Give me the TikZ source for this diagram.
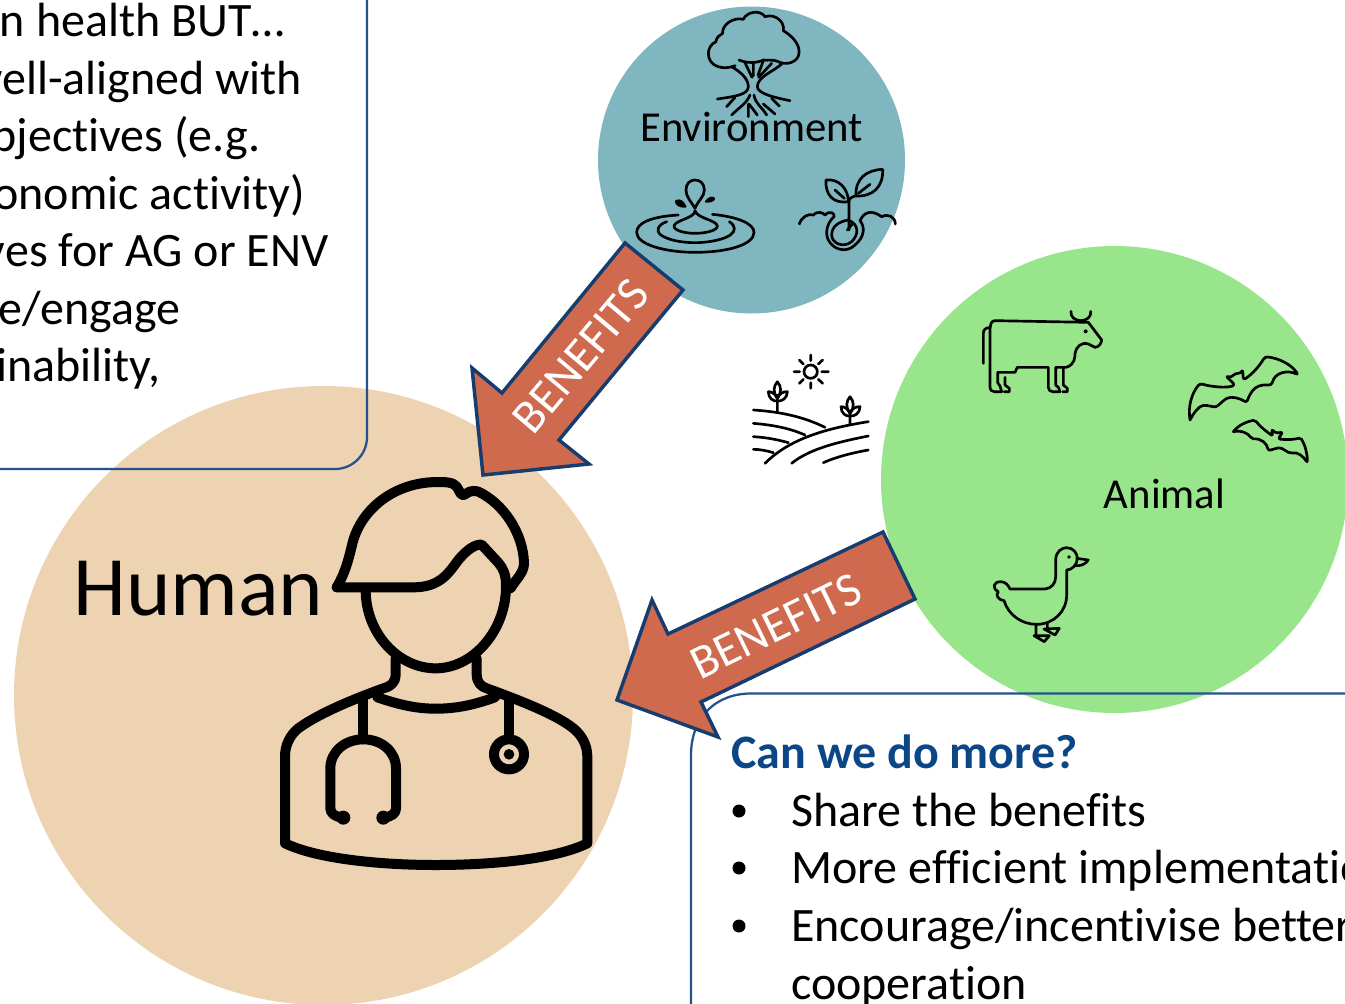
\documentclass[tikz,border=0pt]{standalone}
\usepackage{fontspec}
\setmainfont{Carlito}[Ligatures=NoCommon]
\definecolor{humanc}{HTML}{EDD3B2}
\definecolor{envc}{HTML}{7FB6BF}
\definecolor{animalc}{HTML}{99E58B}
\definecolor{arrowc}{HTML}{CF6A4E}
\definecolor{arrowline}{HTML}{173D70}
\definecolor{boxline}{HTML}{23528F}
\definecolor{titlec}{HTML}{0B4687}
\tikzset{
  blob/.style={fill=#1,draw=none},
  bigarrow/.style={fill=arrowc,draw=arrowline,line width=2.6pt,line join=miter},
  framebox/.style={draw=boxline,line width=1.7pt},
  zoomed/.style={x=.25pt,y=-.25pt},
  icon/.style={draw=black,line width=#1,line cap=round,line join=round,fill=none},
  icon/.default=2pt,
  bodytext/.style={font=\fontsize{36pt}{40pt}\selectfont,inner sep=0pt,text=black},
  labeltext/.style={font=\fontsize{32pt}{36pt}\selectfont,inner sep=0pt,text=black},
  benefit/.style={font=\fontsize{36pt}{40pt}\selectfont,inner sep=0pt,text=white},
}
\begin{document}
\begin{tikzpicture}[x=.75pt,y=-.75pt]
\useasboundingbox (0,0) rectangle (1345,1003);
\clip (0,0) rectangle (1345,1003);
% circles
\fill[blob=humanc] (323.5,695.5) circle[radius=309.5];
\fill[blob=envc] (751.5,160) circle[radius=153.5];
\fill[blob=animalc] (1114.5,479.5) circle[radius=233.5];
% frames
\draw[framebox] (-10,469) -- (335,469) arc[start angle=90,end angle=0,radius=32] -- (367,-10);
\draw[framebox] (1360,693.5) -- (751,693.5) .. controls (715,693.5) and (691,718) .. (691,755) -- (691,1015);
% left text
\node[bodytext,anchor=base east] (l1) at (285,36.5) {n health BUT…};
\node[bodytext,anchor=base east] (l2) at (302.5,94) {well-aligned with};
\node[bodytext,anchor=base east] (l3) at (260.5,151.5) {bjectives (e.g.};
\node[bodytext,anchor=base east] (l4) at (305.5,209) {onomic activity)};
\node[bodytext,anchor=base east] (l5) at (328.5,266.5) {ves for AG or ENV};
\node[bodytext,anchor=base east] (l6) at (180.5,324.5) {e/engage};
\node[bodytext,anchor=base east] (l7) at (160.5,381.5) {inability,};
% right text
\node[bodytext,anchor=base west,text=titlec,font=\fontsize{36pt}{40pt}\selectfont\bfseries] (t0) at (731,768) {Can we do more?};
\node[bodytext,anchor=base west] (t1) at (791,826) {Share the benefits};
\node[bodytext,anchor=base west] (t2) at (791,883.5) {More efficient implementation};
\node[bodytext,anchor=base west] (t3) at (791,941.5) {Encourage/incentivise better};
\node[bodytext,anchor=base west] (t4) at (791,999.5) {cooperation};
\fill (739,811) circle[radius=6.5];
\fill (739,868) circle[radius=6.5];
\fill (739,926) circle[radius=6.5];
% labels
\node[font=\fontsize{63.5pt}{70pt}\selectfont,inner sep=0pt,anchor=base west] (human) at (73,615) {Human};
\node[labeltext,anchor=base] (env) at (751.5,141) {Environment};
\node[labeltext,anchor=base] (animal) at (1164.5,508) {Animal};
% arrows
\draw[bigarrow] (625,243) -- (683,290) -- (559,440) -- (589,464) -- (483,475) -- (472,368) -- (502,393) -- cycle;
\draw[bigarrow] (883,532) -- (915,599) -- (701,702) -- (718,737) -- (617,700) -- (652,600) -- (668,634) -- cycle;
\node[benefit,rotate=50] (b1) at (581,356) {BENEFITS};
\node[benefit,rotate=26] (b2) at (776,626) {BENEFITS};
% doctor
\begin{scope}[shift={(270,470)},zoomed]
\draw[icon=7.5pt] (200,352) .. controls (225,310) and (235,270) .. (245,230) .. controls (265,130) and (360,38) .. (500,36) .. controls (525,36) and (550,36) .. (560,50) .. controls (570,65) and (572,78) .. (582,75) .. controls (592,70) and (600,58) .. (625,65) .. controls (700,100) and (760,190) .. (762,280) .. controls (762,310) and (735,330) .. (722,355);
\draw[icon=7.5pt] (200,352) -- (430,352) .. controls (510,352) and (535,310) .. (565,270) .. controls (590,240) and (615,222) .. (635,224) -- (685,278) .. controls (700,295) and (708,315) .. (708,345) .. controls (710,480) and (610,595) .. (497,595) .. controls (385,595) and (287,490) .. (287,360);
\draw[icon=7.5pt] (377,565) -- (377,612) .. controls (377,640) and (360,650) .. (340,655) .. controls (230,695) and (140,735) .. (85,775) .. controls (60,795) and (45,825) .. (45,860) -- (45,1120) .. controls (150,1170) and (350,1185) .. (497,1185) .. controls (650,1185) and (850,1170) .. (952,1120) -- (952,860) .. controls (952,825) and (935,795) .. (910,775) .. controls (860,735) and (760,695) .. (650,655) .. controls (635,650) and (620,640) .. (620,612) -- (620,565);
\draw[icon=7.5pt] (322,682) .. controls (390,705) and (440,716) .. (497,716) .. controls (560,716) and (610,705) .. (675,682);
\draw[icon=7.5pt] (280,690) -- (280,808);
\draw[icon=7.5pt] (217,1043) .. controls (195,1040) and (181,1030) .. (181,1015) -- (181,895) .. controls (181,845) and (225,808) .. (280,808) .. controls (335,808) and (378,845) .. (378,895) -- (378,1015) .. controls (378,1030) and (365,1040) .. (342,1043);
\fill (220,1043) circle[radius=21];
\fill (340,1043) circle[radius=21];
\draw[icon=7.5pt] (717,690) -- (717,800);
\draw[icon=7.5pt] (717,853) circle[radius=45];
\fill (717,853) circle[radius=16];
\end{scope}
% tree and other environment icons
\begin{scope}[shift={(600,0)},zoomed]
\draw[icon=2pt] (405,197) .. controls (370,212) and (325,200) .. (325,160) .. controls (325,145) and (335,130) .. (347,126) .. controls (350,110) and (360,105) .. (368,100) .. controls (365,75) and (400,50) .. (430,58) .. controls (440,35) and (480,28) .. (495,50) .. controls (525,40) and (555,65) .. (550,92) .. controls (580,110) and (600,135) .. (597,160) .. controls (595,185) and (560,200) .. (530,183) .. controls (515,178) and (500,182) .. (490,180) .. controls (470,190) and (440,190) .. (417,180);
\draw[icon=2pt] (395,200) .. controls (420,215) and (445,235) .. (445,260) .. controls (445,285) and (400,290) .. (352,297);
\draw[icon=2pt] (545,192) .. controls (520,215) and (472,230) .. (472,260) .. controls (472,280) and (520,292) .. (570,302);
\draw[icon=2pt] (435,188) -- (456,232) (460,188) -- (460,228) (490,182) -- (474,225) (515,190) -- (476,232);
\draw[icon=2pt] (380,320) -- (405,292) (395,345) .. controls (420,320) and (440,310) .. (450,285) (445,350) -- (445,312) (472,345) -- (447,312) (500,345) .. controls (485,320) and (465,310) .. (462,285) (525,342) -- (490,312) (538,318) -- (515,295);
% water
\draw[icon=2pt] (235,645) .. controls (150,650) and (110,670) .. (110,697) .. controls (110,735) and (200,757) .. (285,757) .. controls (380,757) and (462,735) .. (462,697) .. controls (462,670) and (410,650) .. (337,643);
\draw[icon=2pt] (200,665) .. controls (170,675) and (170,695) .. (180,703) .. controls (205,722) and (250,728) .. (285,728) .. controls (330,728) and (405,715) .. (403,685) .. controls (403,678) and (398,672) .. (388,665);
\draw[icon=2pt] (285,632) .. controls (285,655) and (225,660) .. (222,678) .. controls (222,692) and (255,700) .. (285,700) .. controls (315,700) and (352,692) .. (352,678) .. controls (350,660) and (290,655) .. (285,632);
\draw[icon=2pt] (285,625) .. controls (270,600) and (258,590) .. (258,570) .. controls (258,550) and (270,540) .. (285,540) .. controls (300,540) and (313,550) .. (313,570) .. controls (313,590) and (295,600) .. (285,625);
\draw[icon=1.6pt,fill=black] (228,603) .. controls (240,598) and (250,605) .. (256,620) .. controls (240,620) and (228,615) .. (228,603);
\draw[icon=1.6pt,fill=black] (342,595) .. controls (335,590) and (325,595) .. (318,605) .. controls (330,605) and (342,602) .. (342,595);
% sprout
\draw[icon=2pt] (598,672) .. controls (605,650) and (625,640) .. (640,645) .. controls (655,630) and (670,640) .. (675,645) .. controls (690,630) and (705,640) .. (702,650) .. controls (680,670) and (675,700) .. (685,720) .. controls (700,750) and (740,760) .. (765,735) .. controls (795,710) and (795,680) .. (780,662) .. controls (790,640) and (810,625) .. (845,650) .. controls (865,640) and (885,650) .. (886,672);
\draw[icon=2pt] (745,660) .. controls (715,665) and (695,680) .. (695,705) .. controls (695,730) and (730,745) .. (755,725) .. controls (775,705) and (780,675) .. (745,660) (747,690) -- (747,605) .. controls (747,595) and (755,590) .. (770,587);
\draw[icon=2pt] (742,690) -- (757,672);
\draw[icon=2pt] (678,540) .. controls (715,535) and (745,565) .. (745,605) .. controls (700,612) and (675,585) .. (678,540);
\draw[icon=2pt] (705,570) -- (733,595);
\draw[icon=2pt] (848,508) .. controls (800,510) and (765,535) .. (768,588) .. controls (820,590) and (850,560) .. (848,508);
\draw[icon=2pt] (775,580) -- (810,553);
\end{scope}
% animals
\begin{scope}[shift={(960,290)},zoomed]
% cow
\draw[icon=2pt] (70,220) -- (70,130) .. controls (70,120) and (76,114) .. (86,113);
\draw[icon=2pt] (90,125) -- (90,290) .. controls (90,300) and (95,305) .. (103,305) -- (125,305) -- (120,288) -- (113,278) -- (113,247) -- (165,247) -- (172,232) -- (265,232) -- (265,292) .. controls (265,300) and (270,305) .. (278,305) -- (300,305) -- (295,292) -- (287,285) -- (287,232) -- (318,232) .. controls (345,225) and (345,200) .. (345,190) .. controls (348,170) and (365,155) .. (385,162) -- (405,172) .. controls (415,172) and (425,160) .. (425,150) -- (385,97) -- (105,92) .. controls (95,92) and (90,100) .. (90,125);
\draw[icon=2pt] (135,262) -- (135,285) -- (148,295) -- (148,305) -- (132,305);
\draw[icon=2pt] (310,235) -- (310,285) -- (322,295) -- (322,305) -- (308,305);
\draw[icon=2pt] (333,64) .. controls (330,80) and (345,92) .. (362,92) .. controls (380,92) and (395,80) .. (392,64);
\fill (377,124) circle[radius=6];
% bats
\draw[icon=2pt,rounded corners=2pt] (690,390) .. controls (683,350) and (695,310) .. (720,280) .. controls (750,290) and (800,295) .. (825,285) -- (810,270) -- (797,258) -- (815,262) -- (825,250) -- (843,250) -- (848,238) -- (850,270) .. controls (880,250) and (900,225) .. (915,200) .. controls (960,205) and (995,225) .. (1015,255) .. controls (985,240) and (945,245) .. (935,285) .. controls (910,285) and (880,280) .. (860,338) .. controls (840,325) and (815,318) .. (795,328) -- (768,352) -- (735,345) .. controls (715,350) and (700,370) .. (690,390);
\draw[icon=2pt,rounded corners=1.5pt] (820,425) .. controls (835,405) and (860,395) .. (885,390) .. controls (900,410) and (920,425) .. (938,438) -- (935,418) -- (948,430) -- (968,426) -- (955,447) .. controls (985,450) and (1005,448) .. (1022,443) .. controls (1035,465) and (1042,490) .. (1042,518) .. controls (1030,500) and (1015,485) .. (990,490) -- (960,472) -- (925,482) .. controls (920,460) and (905,445) .. (875,447) .. controls (865,430) and (845,420) .. (820,425);
% duck
\draw[icon=2pt] (150,897) -- (255,897) .. controls (275,895) and (287,880) .. (287,860) -- (287,810) .. controls (287,785) and (305,773) .. (320,773) .. controls (340,773) and (352,790) .. (352,805) .. controls (352,825) and (335,840) .. (320,840) -- (320,915) .. controls (320,965) and (280,1003) .. (230,1003) .. controls (185,1003) and (145,975) .. (132,932) .. controls (115,930) and (105,915) .. (115,905) .. controls (95,895) and (100,875) .. (122,875) .. controls (135,875) and (145,885) .. (150,897);
\draw[icon=2pt] (350,805) -- (385,810) .. controls (375,825) and (360,828) .. (345,827);
\fill (327,801) circle[radius=5.5];
\draw[icon=2pt] (228,1003) -- (228,1035) (222,1037) -- (268,1037) -- (253,1055) -- cycle;
\draw[icon=2pt] (262,997) -- (262,1015) (252,1017) -- (298,1015) -- (285,1035) -- cycle;
\end{scope}
% farm
\begin{scope}[shift={(740,340)},zoomed]
\draw[icon=2pt] (212,95) circle[radius=20];
\draw[icon=2pt] (212,45) -- (212,62) (212,128) -- (212,145) (162,95) -- (179,95) (245,95) -- (265,95) (178,60) -- (190,72) (235,118) -- (248,130) (178,130) -- (190,118) (235,72) -- (248,60);
\draw[icon=2pt] (112,215) -- (112,165) (112,125) .. controls (100,140) and (98,155) .. (112,175) .. controls (126,155) and (124,140) .. (112,125);
\draw[icon=2pt] (85,155) .. controls (85,175) and (100,185) .. (112,183) .. controls (125,185) and (142,175) .. (142,155) .. controls (128,155) and (118,160) .. (112,175) .. controls (105,160) and (95,155) .. (85,155);
\draw[icon=2pt] (330,255) -- (330,215) (330,170) .. controls (318,185) and (316,200) .. (330,220) .. controls (344,200) and (342,185) .. (330,170);
\draw[icon=2pt] (303,200) .. controls (303,220) and (318,230) .. (330,228) .. controls (343,230) and (360,220) .. (360,200) .. controls (346,200) and (336,205) .. (330,220) .. controls (323,205) and (313,200) .. (303,200);
\draw[icon=2pt] (40,210) .. controls (120,215) and (190,230) .. (255,262);
\draw[icon=2pt] (40,250) .. controls (100,255) and (150,265) .. (195,285);
\draw[icon=2pt] (40,290) .. controls (75,292) and (110,298) .. (145,308);
\draw[icon=2pt] (40,328) .. controls (60,328) and (80,332) .. (100,338);
\draw[icon=2pt] (75,370) .. controls (150,295) and (260,265) .. (385,245);
\draw[icon=2pt] (155,370) .. controls (210,325) and (300,305) .. (385,288);
\draw[icon=2pt] (250,368) .. controls (290,350) and (340,338) .. (385,330);
\end{scope}
\end{tikzpicture}
\end{document}
